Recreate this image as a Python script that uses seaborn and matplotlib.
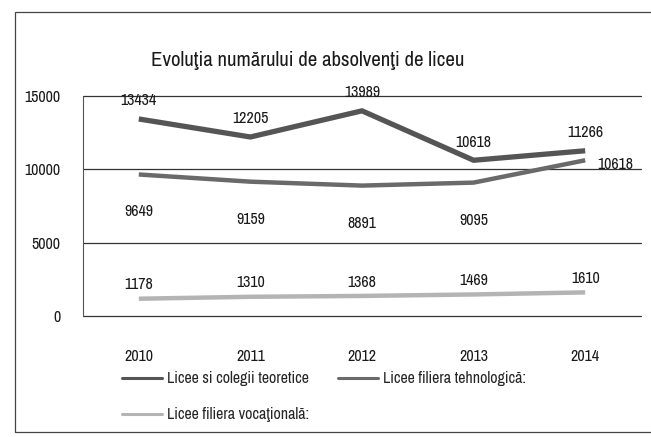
import matplotlib
matplotlib.use("Agg")
import matplotlib.pyplot as plt
import matplotlib.patches as mpatches
import seaborn as sns
import pandas as pd

years = ["2010", "2011", "2012", "2013", "2014"]
teoretice = [13434, 12205, 13989, 10618, 11266]
tehnologica = [9649, 9159, 8891, 9095, 10618]
vocationala = [1178, 1310, 1368, 1469, 1610]
series_names = [
    "Licee si colegii teoretice",
    "Licee filiera tehnologică:",
    "Licee filiera vocaţională:",
]
y_ticks = [0, 5000, 10000, 15000]
title = "Evoluţia numărului de absolvenţi de liceu"

sns.set_theme(style="white")
plt.rcParams["font.family"] = ["Archivo Narrow", "DejaVu Sans"]

rows = []
for name, vals in zip(series_names, [teoretice, tehnologica, vocationala]):
    for i, (yr, v) in enumerate(zip(years, vals)):
        rows.append({"pos": i, "an": yr, "serie": name, "valoare": v})
df = pd.DataFrame(rows)

palette = {series_names[0]: "#555555", series_names[1]: "#6a6a6a", series_names[2]: "#b4b4b4"}
widths = {series_names[0]: 3.8, series_names[1]: 3.2, series_names[2]: 3.2}
txt_color = "#1a1a1a"
fs = 11.5

fig = plt.figure(figsize=(6.51, 4.37), dpi=100)
ax = fig.add_axes([83 / 651, 1 - 316 / 437, (641 - 83) / 651, (316 - 96) / 437])

sns.lineplot(data=df, x="pos", y="valoare", hue="serie", palette=palette,
             hue_order=series_names, ax=ax, legend=False, sort=False)
for line, name in zip(ax.get_lines(), series_names):
    line.set_linewidth(widths[name])
    line.set_solid_capstyle("butt")

ax.set_xlim(-0.5, 4.5)
ax.set_ylim(0, 15000)
ax.set_yticks(y_ticks)
ax.set_yticklabels([str(t) for t in y_ticks])
ax.set_xticks(range(len(years)))
ax.set_xticklabels(years)
ax.set_xlabel("")
ax.set_ylabel("")
ax.tick_params(axis="x", length=0, pad=24, labelsize=fs, colors=txt_color)
ax.tick_params(axis="y", length=0, pad=16, labelsize=fs, colors=txt_color)
for t in y_ticks:
    ax.axhline(t, color="#333333", lw=0.9, zorder=0.5, clip_on=False)
for s in ["top", "right", "bottom"]:
    ax.spines[s].set_visible(False)
ax.spines["left"].set_linestyle((0, (1, 1)))
ax.spines["left"].set_color("#555555")
ax.spines["left"].set_linewidth(0.8)

# value labels
lab = dict(textcoords="offset points", ha="center", va="center",
           fontsize=fs, color=txt_color)
for i, v in enumerate(teoretice):
    ax.annotate(str(v), (i, v), xytext=(0, 13), **lab)
for i, v in enumerate(tehnologica):
    if i == len(tehnologica) - 1:
        ax.annotate(str(v), (i, v), xytext=(22, -3), **lab)
    else:
        ax.annotate(str(v), (i, v), xytext=(0, -27), **lab)
for i, v in enumerate(vocationala):
    ax.annotate(str(v), (i, v), xytext=(0, 10), **lab)

fig.text(308 / 651, 1 - 60 / 437, title, ha="center", va="center",
         fontsize=15, color=txt_color)

handles = {n: plt.Line2D([], [], color=palette[n], lw=2.2) for n in series_names}
# column-wise fill: first column holds teoretice + vocationala, second tehnologica
order = [series_names[0], series_names[2], series_names[1]]
fig.legend([handles[n] for n in order], order, ncol=2,
           loc="upper left", bbox_to_anchor=(116 / 651, 1 - 365 / 437),
           frameon=False, fontsize=fs, handlelength=2.5, handletextpad=0.3,
           columnspacing=1.8, labelspacing=1.3, borderaxespad=0)

fig.patches.append(mpatches.Rectangle((15 / 651, 1 - 432 / 437), 1.0, (432 - 12) / 437,
                                      transform=fig.transFigure, fill=False,
                                      edgecolor="#444444", lw=0.9))

fig.savefig("out.png", dpi=100)
